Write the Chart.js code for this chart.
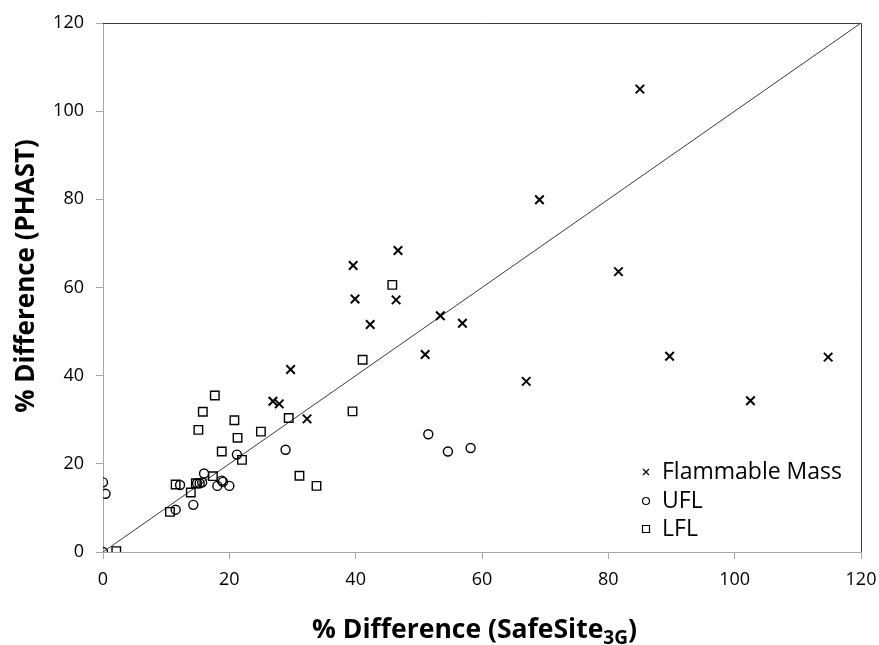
<!DOCTYPE html>
<html><head><meta charset="utf-8">
<script src="https://cdn.jsdelivr.net/npm/chart.js@4.4.0/dist/chart.umd.min.js"></script>
<style>html,body{margin:0;padding:0;background:#fff}#wrap{width:879px;height:645px}</style>
</head><body><div id="wrap"><canvas id="c" width="879" height="645"></canvas></div>
<script>
const xAxisTitle = '% Difference (SafeSite';
const xAxisSub = '3G';
const xAxisEnd = ')';
const yAxisTitle = '% Difference (PHAST)';
const axisMin = 0;
const axisMax = 120;
const tickStep = 20;
const seriesNames = ['Flammable Mass', 'UFL', 'LFL'];

const flammableX = [26.9, 27.9, 29.7, 32.3, 39.6, 39.9, 42.3, 46.4, 46.7, 51.0, 53.4, 56.9, 67.0, 69.1, 81.6, 85.0, 89.7, 102.5, 114.8];
const flammableY = [34.2, 33.6, 41.4, 30.2, 65.0, 57.4, 51.6, 57.2, 68.4, 44.8, 53.6, 51.9, 38.7, 79.9, 63.6, 105.0, 44.4, 34.3, 44.2];

const uflX = [0, 0, 0.4, 11.5, 12.2, 14.3, 14.9, 15.3, 15.7, 16.0, 18.1, 18.8, 19.0, 20.0, 21.2, 28.9, 51.5, 54.6, 58.2];
const uflY = [0, 15.8, 13.2, 9.6, 15.2, 10.7, 15.6, 15.6, 15.8, 17.8, 15.0, 16.2, 15.9, 15.0, 22.1, 23.2, 26.7, 22.8, 23.6];

const lflX = [2.1, 10.6, 11.5, 13.9, 14.7, 15.1, 15.8, 17.4, 17.7, 18.8, 20.8, 21.3, 22.0, 25.0, 29.4, 31.1, 33.8, 39.5, 41.1, 45.8];
const lflY = [0.2, 9.1, 15.3, 13.5, 15.6, 27.7, 31.8, 17.2, 35.5, 22.8, 29.9, 25.9, 20.9, 27.3, 30.4, 17.3, 15.0, 31.9, 43.6, 60.6];

const parityX = [0, 120];
const parityY = [0, 120];

const FONT = '"Open Sans", Lato, sans-serif';
const pts = (xs, ys) => xs.map((x, i) => ({x: x, y: ys[i]}));

const framePlugin = {
  id: 'frame',
  afterDraw(chart) {
    const {ctx, chartArea: a} = chart;
    ctx.save();
    ctx.strokeStyle = '#3a3a3a';
    ctx.lineWidth = 1;
    ctx.beginPath();
    ctx.moveTo(a.left, Math.round(a.top) + 0.5);
    ctx.lineTo(Math.round(a.right) + 0.5, Math.round(a.top) + 0.5);
    ctx.lineTo(Math.round(a.right) + 0.5, a.bottom);
    ctx.stroke();

    // axis titles
    ctx.fillStyle = '#000';
    ctx.font = 'bold 26px ' + FONT;
    ctx.textAlign = 'center';
    ctx.textBaseline = 'middle';
    ctx.save();
    ctx.translate(27, 276);
    ctx.rotate(-Math.PI / 2);
    ctx.fillText(yAxisTitle, 0, 0);
    ctx.restore();

    const mainFont = 'bold 26.5px ' + FONT;
    const subFont = 'bold 19px ' + FONT;
    ctx.font = mainFont;
    const w1 = ctx.measureText(xAxisTitle).width;
    const w3 = ctx.measureText(xAxisEnd).width;
    ctx.font = subFont;
    const w2 = ctx.measureText(xAxisSub).width;
    const total = w1 + w2 + w3;
    let x0 = 474.5 - total / 2;
    const base = 638;
    ctx.textAlign = 'left';
    ctx.textBaseline = 'alphabetic';
    ctx.font = mainFont;
    ctx.fillText(xAxisTitle, x0, base);
    ctx.font = subFont;
    ctx.fillText(xAxisSub, x0 + w1, base + 6);
    ctx.font = mainFont;
    ctx.fillText(xAxisEnd, x0 + w1 + w2, base);

    // legend
    const lx = 646, tx = 662;
    const rows = [472, 501, 529];
    ctx.font = '23px ' + FONT;
    ctx.textBaseline = 'middle';
    ctx.strokeStyle = '#000';
    ctx.lineWidth = 1.2;
    rows.forEach((ry, i) => {
      ctx.beginPath();
      if (i === 0) {
        ctx.moveTo(lx - 3, ry - 3); ctx.lineTo(lx + 3, ry + 3);
        ctx.moveTo(lx - 3, ry + 3); ctx.lineTo(lx + 3, ry - 3);
      } else if (i === 1) {
        ctx.arc(lx, ry, 3.5, 0, Math.PI * 2);
      } else {
        ctx.rect(lx - 3.5, ry - 3.5, 7, 7);
      }
      ctx.stroke();
      ctx.fillText(seriesNames[i], tx, ry);
    });
    ctx.restore();
  }
};

const axisCommon = (isY) => ({
  type: 'linear',
  min: axisMin,
  max: axisMax,
  ticks: {stepSize: tickStep, color: '#000', font: {family: FONT, size: 18}, padding: isY ? 12 : 10},
  grid: {drawOnChartArea: false, drawTicks: true, tickLength: 7, color: '#a6a6a6', lineWidth: 1},
  border: {color: '#a6a6a6', width: 1},
  title: {display: false},
  afterFit: (s) => {
    if (isY) { s.width = 103; s.paddingTop = 0; s.paddingBottom = 0; }
    else { s.height = 93; s.paddingLeft = 0; s.paddingRight = 0; }
  }
});

new Chart(document.getElementById('c'), {
  type: 'scatter',
  data: {
    datasets: [
      {type: 'line', label: 'parity', data: pts(parityX, parityY), borderColor: '#3a3a3a', borderWidth: 1, pointRadius: 0, fill: false, order: 4},
      {label: seriesNames[0], data: pts(flammableX, flammableY), pointStyle: 'crossRot', pointRadius: 6, borderWidth: 2, borderColor: '#000', backgroundColor: '#000', order: 1},
      {label: seriesNames[1], data: pts(uflX, uflY), pointStyle: 'circle', pointRadius: 4.5, borderWidth: 1.4, borderColor: '#000', backgroundColor: 'rgba(0,0,0,0)', order: 2},
      {label: seriesNames[2], data: pts(lflX, lflY), pointStyle: 'rect', pointRadius: 6, borderWidth: 1.4, borderColor: '#000', backgroundColor: 'rgba(0,0,0,0)', order: 3}
    ]
  },
  options: {
    responsive: false,
    animation: false,
    devicePixelRatio: 1,
    layout: {padding: {left: 0, top: 23, right: 18, bottom: 0}},
    plugins: {legend: {display: false}, tooltip: {enabled: false}},
    scales: {x: axisCommon(false), y: axisCommon(true)}
  },
  plugins: [framePlugin]
});
</script>
</body></html>
